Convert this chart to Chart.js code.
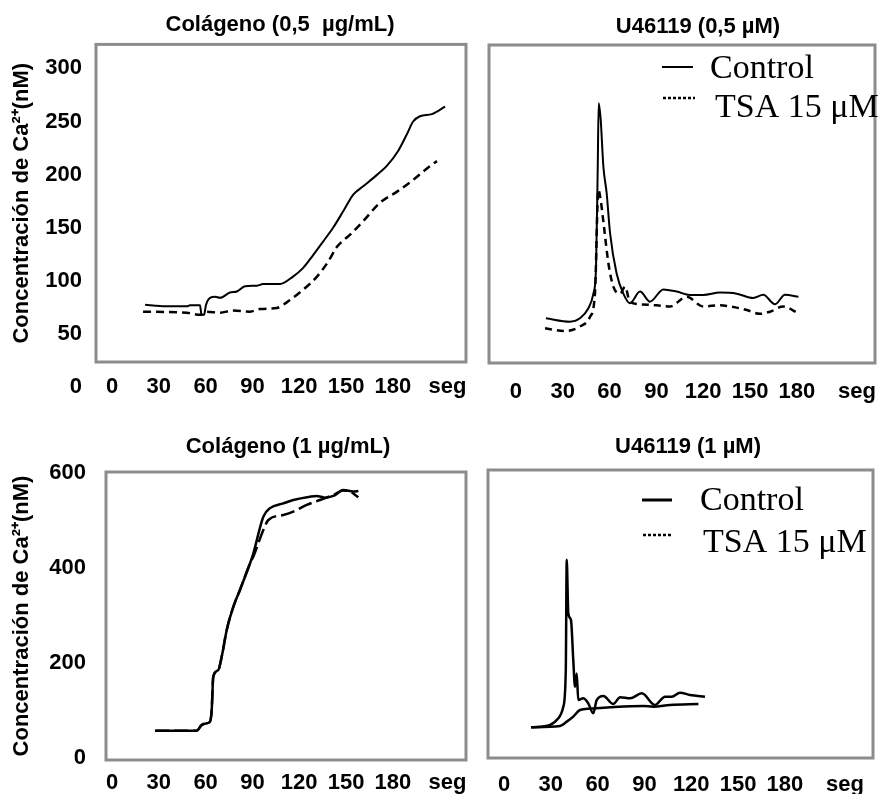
<!DOCTYPE html>
<html>
<head>
<meta charset="utf-8">
<script src="https://cdn.jsdelivr.net/npm/chart.js@4.4.1/dist/chart.umd.min.js"></script>
<style>
    html, body { margin: 0; padding: 0; background: #fff; overflow: hidden; width: 879px; height: 794px; }
    canvas { position: absolute; }
</style>
</head>
<body>
<canvas id="c1" width="560" height="410" style="left:0;top:0"></canvas>
<canvas id="c2" width="456" height="410" style="left:470px;top:0"></canvas>
<canvas id="c3" width="576" height="384" style="left:0;top:410px"></canvas>
<canvas id="c4" width="436" height="384" style="left:470px;top:410px"></canvas>
<script>
// Achsen
const xTicks = [0, 30, 60, 90, 120, 150, 180];
const yTicksLow = [50, 100, 150, 200, 250, 300];
const yTicksHigh = [0, 200, 400, 600];

const yTitle = 'Concentración de Ca²⁺(nM)';
const seriesNames = ['Control', 'TSA 15 μM'];

// Colágeno 0,5 µg/mL
const col05CtrlT = [21.2, 30.8, 32.7, 48, 50, 56.4, 57.4, 59.0, 60.2, 62.8, 66, 69.2, 75.6, 80, 85.3, 93, 96.8, 107.7, 116, 122.4, 128.8, 135.3, 141.7, 148, 154.5, 161, 170, 176, 183.3, 189, 193, 197.4, 205, 213.5];
const col05CtrlV = [77.4, 76.4, 76, 76, 77, 77, 68, 68, 77, 84, 85, 84, 89, 90, 95, 95.5, 97, 97, 104, 112, 124, 137, 150, 165, 181, 189, 200, 208, 222, 238, 250, 255, 257, 264];
const col05TsaT = [19.9, 48, 56.4, 60.9, 69.2, 77.6, 88.5, 94.9, 105.8, 112.2, 122.4, 131.4, 138.5, 144.2, 152.6, 160.9, 171.8, 182.7, 193, 203.8, 208.3];
const col05TsaV = [71, 70, 68, 71, 70, 72, 71, 73.5, 74.5, 80, 91.5, 104, 118, 132, 143.5, 156, 173.6, 184, 195, 208, 212.7];

// U46119 0,5 µM
const u05CtrlT = [19.2, 34.6, 41, 46.3, 49.6, 51.3, 52.4, 53, 54.3, 56, 58.1, 60.3, 64.5, 68.8, 73, 79.5, 85.9, 94.4, 103, 111.5, 120, 130.8, 141.5, 152, 158.5, 166, 172.4, 181];
const u05CtrlV = [64.8, 61.6, 64.8, 74, 88, 113, 208, 267.6, 252, 208, 183, 145, 107, 88, 79, 90, 80.5, 92, 90, 86.8, 86.8, 89, 88, 84, 87, 78, 87, 85];
const u05TsaT = [18.6, 31.4, 41, 47.4, 50.6, 52.8, 54.3, 56.4, 59.2, 62.4, 66.7, 69.9, 73, 79.5, 90.2, 98.7, 109.4, 120, 130.8, 137.2, 147.9, 156.4, 162.8, 171.3, 181];
const u05TsaV = [55.3, 52.8, 57, 66, 88, 186, 176, 151, 117, 94.6, 88, 94.6, 80.5, 78, 77, 76, 85, 76, 77, 76, 72.6, 69, 71, 75.8, 69.5];

// Colágeno 1 µg/mL
const col1CtrlT = [27.6, 54.3, 57.5, 60.7, 62.8, 63.9, 64.9, 68.1, 70.3, 73.5, 77.8, 82, 88.5, 90.6, 97, 101.3, 109.8, 116.2, 126.9, 131.2, 136.5, 141.9, 148.3, 154.7, 157.9];
const col1CtrlV = [57.5, 57.5, 69.5, 73, 76.5, 101, 171, 185, 213, 269, 318.5, 353.7, 410, 431, 508, 526, 536, 543, 550, 551.6, 548, 551.6, 564, 560.7, 562];
const col1TsaT = [27.6, 54.3, 57.5, 60.7, 62.8, 63.9, 64.9, 68.1, 70.3, 73.5, 77.8, 82, 88.5, 90.6, 97, 100.2, 109.8, 116.2, 124.8, 133.3, 141.9, 148.3, 152.6, 157.9];
const col1TsaV = [57.5, 57.5, 69.5, 73, 76.5, 101, 171, 185, 213, 269, 318.5, 353.7, 410, 424, 480, 501, 511.6, 518.6, 532.6, 543, 553.7, 562.8, 560.7, 548.8];

// U46119 1 µM
const u1CtrlT = [17.3, 29.5, 34.8, 38, 39.6, 40.2, 41.2, 42.9, 44.4, 45.5, 46.6, 47.6, 50.8, 54, 57.2, 59.4, 63.7, 70, 74.4, 80.8, 88.3, 96.8, 103.2, 107.5, 112.8, 119.2, 128.8];
const u1CtrlV = [64.6, 69.5, 83.5, 108, 185, 417, 304.6, 290.5, 206, 150, 178, 122, 125.6, 115, 94, 122, 130.5, 113.7, 127.8, 125.6, 136, 111.6, 129, 129, 137.5, 132.6, 129];
const u1TsaT = [17.3, 35.9, 40.2, 44.4, 48.7, 55.1, 67.9, 89.3, 95.7, 106.4, 124.6];
const u1TsaV = [64.6, 67.4, 76.5, 87, 101, 103.8, 106.7, 109.5, 108, 111.6, 113.7];

Chart.defaults.font.family = "'Liberation Sans', Arial, sans-serif";
Chart.defaults.color = '#000';

const boldFont = { size: 22, weight: 'bold' };
const axisTitleFont = { size: 22, weight: 'bold' };

// Rahmen, Legende und "0" unter der y-Achse
const extrasPlugin = {
    id: 'extras',
    afterDatasetsDraw(chart, args, opts) {
        const { ctx, chartArea: a } = chart;
        ctx.save();
        ctx.strokeStyle = '#8c8c8c';
        ctx.lineWidth = 3;
        ctx.strokeRect(a.left, a.top, a.right - a.left, a.bottom - a.top);

        if (opts.zeroLabel != null) {
            ctx.font = "bold 22px 'Liberation Sans', Arial, sans-serif";
            ctx.fillStyle = '#000';
            ctx.textAlign = 'right';
            ctx.textBaseline = 'middle';
            ctx.fillText('0', a.left - opts.tickPad, chart.scales.y.getPixelForValue(opts.zeroLabel));
        }

        (opts.legend || []).forEach((it, i) => {
            ctx.beginPath();
            ctx.strokeStyle = '#000';
            ctx.lineWidth = it.width;
            ctx.setLineDash(it.dash);
            ctx.moveTo(a.left + it.x0, a.top + it.ly);
            ctx.lineTo(a.left + it.x1, a.top + it.ly);
            ctx.stroke();
            ctx.setLineDash([]);
            ctx.font = "34px 'Liberation Serif', 'Times New Roman', serif";
            ctx.fillStyle = '#000';
            ctx.textAlign = 'left';
            ctx.textBaseline = 'alphabetic';
            ctx.fillText(chart.data.datasets[i].label, a.left + it.tx, a.top + it.ty);
        });
        ctx.restore();
    }
};

function makeChart(id, p) {
    const yScale = {
        min: p.yMin, max: p.yMax,
        afterFit: s => { s.width = p.yW; },
        grid: { display: false, drawTicks: false },
        border: { display: false },
        ticks: { display: !!p.yTicks, font: boldFont, color: '#000', padding: p.yPad || 0 },
        title: { display: !!p.yTicks, text: yTitle, font: axisTitleFont, color: '#000', padding: { top: 9, bottom: 0 } }
    };
    if (p.yTicks) {
        yScale.afterBuildTicks = s => { s.ticks = p.yTicks.map(v => ({ value: v })); };
    }

    return new Chart(document.getElementById(id), {
        type: 'line',
        data: {
            datasets: p.series.map((s, i) => ({
                label: seriesNames[i],
                data: s.t.map((t, k) => ({ x: t, y: s.v[k] })),
                borderColor: '#000',
                borderWidth: s.width,
                borderDash: s.dash,
                pointRadius: 0,
                cubicInterpolationMode: 'monotone',
                fill: false
            }))
        },
        options: {
            responsive: false,
            animation: false,
            layout: { padding: 0 },
            plugins: {
                legend: { display: false },
                tooltip: { enabled: false },
                title: { display: true, text: p.title, font: boldFont, color: '#000', padding: p.titlePad },
                extras: { zeroLabel: p.zeroLabel, tickPad: p.yPad, legend: p.legend }
            },
            scales: {
                x: {
                    type: 'linear',
                    min: p.xMin, max: p.xMax,
                    afterBuildTicks: s => { s.ticks = xTicks.concat([p.segAt]).map(v => ({ value: v })); },
                    afterFit: s => { s.height = p.xH; },
                    grid: { display: false, drawTicks: false },
                    border: { display: false },
                    ticks: {
                        autoSkip: false, maxRotation: 0, font: boldFont, color: '#000', padding: p.xPad,
                        callback: v => (v === p.segAt ? 'seg' : v)
                    }
                },
                y: yScale,
                yr: {
                    position: 'right',
                    afterFit: s => { s.width = p.rightW; },
                    grid: { display: false, drawTicks: false },
                    border: { display: false },
                    ticks: { display: false }
                }
            }
        },
        plugins: [extrasPlugin]
    });
}

makeChart('c1', {
    title: 'Colágeno (0,5  µg/mL)', titlePad: { top: 12, bottom: 6 },
    yW: 96, rightW: 94, xH: 48, xPad: 12,
    xMin: -10.26, xMax: 226.9, segAt: 215,
    yMin: 23.6, yMax: 322.6, yTicks: yTicksLow, yPad: 14, zeroLabel: 0,
    series: [
        { t: col05CtrlT, v: col05CtrlV, width: 2, dash: [] },
        { t: col05TsaT, v: col05TsaV, width: 2.5, dash: [8, 5] }
    ]
});

makeChart('c2', {
    title: 'U46119 (0,5 µM)', titlePad: { top: 14, bottom: 4.6 },
    yW: 19, rightW: 51, xH: 47, xPad: 16,
    xMin: -17.3, xMax: 230.1, segAt: 218.6,
    yMin: 22.6, yMax: 322.6,
    series: [
        { t: u05CtrlT, v: u05CtrlV, width: 2, dash: [] },
        { t: u05TsaT, v: u05TsaV, width: 2.5, dash: [7, 5] }
    ],
    legend: [
        { x0: 173, x1: 204, ly: 22, tx: 221, ty: 33, width: 2, dash: [] },
        { x0: 174, x1: 206, ly: 53, tx: 226, ty: 72, width: 2.5, dash: [3, 2] }
    ]
});

makeChart('c3', {
    title: 'Colágeno (1 µg/mL)', titlePad: { top: 24, bottom: 11.6 },
    yW: 106, rightW: 110, xH: 34, xPad: 10,
    xMin: -3.85, xMax: 226.9, segAt: 215,
    yMin: -4.2, yMax: 602, yTicks: yTicksHigh, yPad: 20,
    series: [
        { t: col1CtrlT, v: col1CtrlV, width: 2.5, dash: [] },
        { t: col1TsaT, v: col1TsaV, width: 2.5, dash: [14, 5] }
    ]
});

makeChart('c4', {
    title: 'U46119 (1 µM)', titlePad: { top: 24, bottom: 9.6 },
    yW: 18, rightW: 33, xH: 36, xPad: 14,
    xMin: -10.26, xMax: 236.5, segAt: 218.6,
    yMin: 0, yMax: 606,
    series: [
        { t: u1CtrlT, v: u1CtrlV, width: 2.5, dash: [] },
        { t: u1TsaT, v: u1TsaV, width: 2.5, dash: [] }
    ],
    legend: [
        { x0: 154, x1: 184, ly: 30, tx: 212, ty: 40, width: 3, dash: [] },
        { x0: 155, x1: 184, ly: 65, tx: 215, ty: 82, width: 2.5, dash: [3, 2] }
    ]
});
</script>
</body>
</html>
